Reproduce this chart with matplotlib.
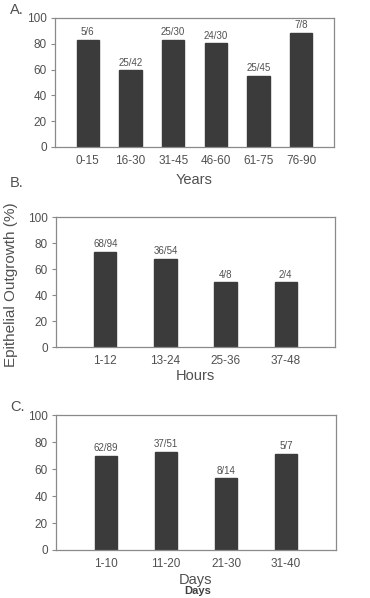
import matplotlib
matplotlib.use("Agg")
import matplotlib.pyplot as plt

# Panel A
years_cats = ["0-15", "16-30", "31-45", "46-60", "61-75", "76-90"]
years_vals = [83.3, 59.6, 83.3, 80.3, 55.4, 88.5]
years_lbls = ["5/6", "25/42", "25/30", "24/30", "25/45", "7/8"]
# Panel B
hours_cats = ["1-12", "13-24", "25-36", "37-48"]
hours_vals = [73.2, 67.7, 49.8, 49.8]
hours_lbls = ["68/94", "36/54", "4/8", "2/4"]
# Panel C
days_cats = ["1-10", "11-20", "21-30", "31-40"]
days_vals = [69.6, 72.8, 53.1, 71.0]
days_lbls = ["62/89", "37/51", "8/14", "5/7"]
yticks = [0, 20, 40, 60, 80, 100]

W, H = 370, 598
fig = plt.figure(figsize=(W / 100, H / 100), dpi=100)
fig.patch.set_facecolor("white")

bar_c = "#3b3b3b"
txt_c = "#505050"
spine_c = "#8a8a8a"
plt.rcParams['font.family'] = ['Liberation Sans', 'DejaVu Sans']

def px_axes(l, t, r, b):
    return fig.add_axes([l / W, 1 - b / H, (r - l) / W, (b - t) / H])

def panel(rect, cats, vals, lbls, xlabel, width_units, xpad, lpad):
    ax = px_axes(*rect)
    x = list(range(len(cats)))
    ax.bar(x, vals, width=width_units, color=bar_c, edgecolor=bar_c)
    for xi, v, s in zip(x, vals, lbls):
        ax.text(xi, v + 2, s, ha="center", va="bottom", fontsize=7, color=txt_c)
    ax.set_ylim(0, 100)
    ax.set_xlim(-xpad, len(cats) - 1 + xpad)
    ax.set_yticks(yticks)
    ax.set_xticks(x)
    ax.set_xticklabels(cats)
    ax.tick_params(axis="y", length=3, width=0.8, color=spine_c, labelsize=8.5,
                   labelcolor=txt_c, pad=3)
    ax.tick_params(axis="x", length=0, labelsize=8.5, labelcolor=txt_c, pad=6)
    for sp in ax.spines.values():
        sp.set_color(spine_c)
        sp.set_linewidth(0.9)
    ax.set_xlabel(xlabel, fontsize=10.5, color=txt_c, labelpad=lpad)
    return ax

panel((55, 18, 334, 147), years_cats, years_vals, years_lbls, "Years", 0.52, 0.77, 4)
panel((56, 217, 335, 347), hours_cats, hours_vals, hours_lbls, "Hours", 0.37, 0.82, 1)
axc = panel((56, 415, 336, 550), days_cats, days_vals, days_lbls, "Days", 0.37, 0.83, 2)

fig.text(10 / W, 1 - 10 / H, "A.", fontsize=10.5, color=txt_c, va="center", ha="left")
fig.text(10 / W, 1 - 183 / H, "B.", fontsize=10.5, color=txt_c, va="center", ha="left")
fig.text(10 / W, 1 - 407 / H, "C.", fontsize=10.5, color=txt_c, va="center", ha="left")
fig.text(11 / W, 1 - 285 / H, "Epithelial Outgrowth (%)", fontsize=11, color=txt_c,
         rotation=90, va="center", ha="center")
# ghosted duplicate "Days" at the bottom edge
fig.text(198 / W, 1 - 591 / H, "Days", fontsize=8, color="#404040",
         fontweight="bold", va="center", ha="center")

fig.savefig("out.png", dpi=100, facecolor="white")
